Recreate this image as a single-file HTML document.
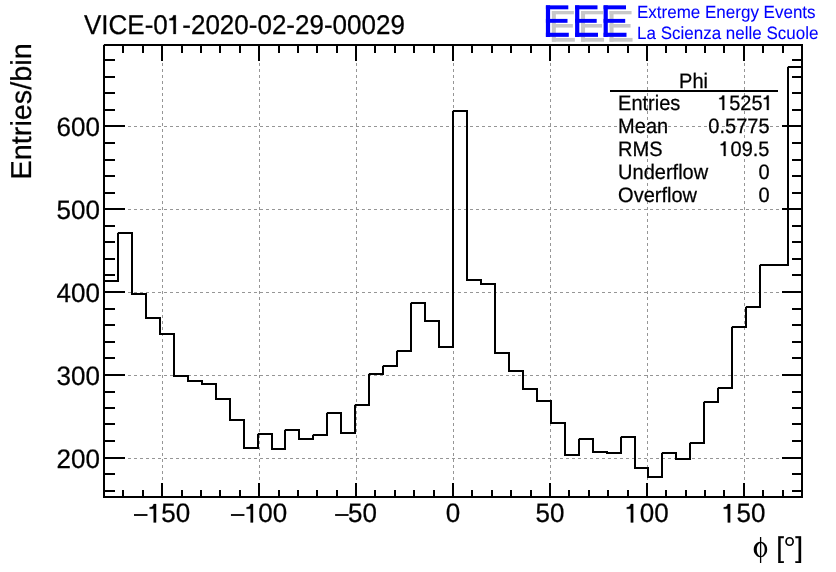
<!DOCTYPE html>
<html><head><meta charset="utf-8"><style>
html,body{margin:0;padding:0;background:#fff;width:836px;height:572px;overflow:hidden}
svg{display:block;will-change:transform}
text{font-family:"Liberation Sans",sans-serif;fill:#000;stroke:#000;stroke-width:0.25px;text-rendering:geometricPrecision}
</style></head><body>
<svg width="836" height="572" viewBox="0 0 836 572">
<rect width="836" height="572" fill="#fff"/>

<g stroke="#969696" stroke-width="1" stroke-dasharray="3 3"><line x1="162.5" y1="45" x2="162.5" y2="496"/><line x1="259.5" y1="45" x2="259.5" y2="496"/><line x1="356.5" y1="45" x2="356.5" y2="496"/><line x1="453.5" y1="45" x2="453.5" y2="496"/><line x1="550.5" y1="45" x2="550.5" y2="496"/><line x1="647.5" y1="45" x2="647.5" y2="496"/><line x1="744.5" y1="45" x2="744.5" y2="496"/><line x1="104" y1="458.5" x2="801" y2="458.5"/><line x1="104" y1="375.5" x2="801" y2="375.5"/><line x1="104" y1="292.5" x2="801" y2="292.5"/><line x1="104" y1="209.5" x2="801" y2="209.5"/><line x1="104" y1="126.5" x2="801" y2="126.5"/></g>
<path d="M104 491H115 M802 491H792 M104 474H115 M802 474H792 M104 458H125 M802 458H782 M104 441H115 M802 441H792 M104 424H115 M802 424H792 M104 408H115 M802 408H792 M104 392H115 M802 392H792 M104 375H125 M802 375H782 M104 358H115 M802 358H792 M104 342H115 M802 342H792 M104 325H115 M802 325H792 M104 309H115 M802 309H792 M104 292H125 M802 292H782 M104 275H115 M802 275H792 M104 259H115 M802 259H792 M104 242H115 M802 242H792 M104 226H115 M802 226H792 M104 209H125 M802 209H782 M104 193H115 M802 193H792 M104 176H115 M802 176H792 M104 160H115 M802 160H792 M104 143H115 M802 143H792 M104 126H125 M802 126H782 M104 110H115 M802 110H792 M104 93H115 M802 93H792 M104 77H115 M802 77H792 M104 60H115 M802 60H792 M123 497V490 M123 45V53 M143 497V490 M143 45V53 M162 497V483 M162 45V61 M182 497V490 M182 45V53 M201 497V490 M201 45V53 M220 497V490 M220 45V53 M240 497V490 M240 45V53 M259 497V483 M259 45V61 M279 497V490 M279 45V53 M298 497V490 M298 45V53 M317 497V490 M317 45V53 M337 497V490 M337 45V53 M356 497V483 M356 45V61 M375 497V490 M375 45V53 M395 497V490 M395 45V53 M414 497V490 M414 45V53 M434 497V490 M434 45V53 M453 497V483 M453 45V61 M472 497V490 M472 45V53 M492 497V490 M492 45V53 M511 497V490 M511 45V53 M531 497V490 M531 45V53 M550 497V483 M550 45V61 M569 497V490 M569 45V53 M589 497V490 M589 45V53 M608 497V490 M608 45V53 M628 497V490 M628 45V53 M647 497V483 M647 45V61 M666 497V490 M666 45V53 M686 497V490 M686 45V53 M705 497V490 M705 45V53 M724 497V490 M724 45V53 M744 497V483 M744 45V61 M763 497V490 M763 45V53 M783 497V490 M783 45V53" fill="none" stroke="#000" stroke-width="2"/>
<path d="M104.00 497.00 L104 281 L118 281 L118 233 L132 233 L132 294 L146 294 L146 318 L160 318 L160 334 L174 334 L174 376 L188 376 L188 381 L202 381 L202 384 L216 384 L216 399 L230 399 L230 420 L244 420 L244 448 L258 448 L258 434 L272 434 L272 449 L285 449 L285 430 L299 430 L299 439 L313 439 L313 435 L327 435 L327 413 L341 413 L341 433 L355 433 L355 405 L369 405 L369 374 L383 374 L383 366 L397 366 L397 351 L411 351 L411 303 L425 303 L425 321 L439 321 L439 347 L453 347 L453 111 L467 111 L467 280 L481 280 L481 284 L495 284 L495 353 L509 353 L509 371 L523 371 L523 389 L537 389 L537 401 L551 401 L551 423 L565 423 L565 455 L579 455 L579 439 L593 439 L593 452 L607 452 L607 453 L621 453 L621 437 L635 437 L635 468 L648 468 L648 477 L662 477 L662 453 L676 453 L676 459 L690 459 L690 443 L704 443 L704 402 L718 402 L718 388 L732 388 L732 327 L746 327 L746 307 L760 307 L760 265 L774 265 L774 265 L788 265 L788 67 L802 67 L802.00 497.00" fill="none" stroke="#000" stroke-width="2" stroke-linejoin="miter"/>
<rect x="104" y="45" width="698" height="452" fill="none" stroke="#000" stroke-width="2"/>
<g fill="#fff" fill-opacity="0.85"><rect x="103" y="44" width="1" height="1"/><rect x="117" y="232" width="1" height="1"/><rect x="257" y="433" width="1" height="1"/><rect x="284" y="429" width="1" height="1"/><rect x="312" y="434" width="1" height="1"/><rect x="326" y="412" width="1" height="1"/><rect x="354" y="404" width="1" height="1"/><rect x="368" y="373" width="1" height="1"/><rect x="382" y="365" width="1" height="1"/><rect x="396" y="350" width="1" height="1"/><rect x="410" y="302" width="1" height="1"/><rect x="452" y="110" width="1" height="1"/><rect x="578" y="438" width="1" height="1"/><rect x="620" y="436" width="1" height="1"/><rect x="661" y="452" width="1" height="1"/><rect x="689" y="442" width="1" height="1"/><rect x="703" y="401" width="1" height="1"/><rect x="717" y="387" width="1" height="1"/><rect x="731" y="326" width="1" height="1"/><rect x="745" y="306" width="1" height="1"/><rect x="759" y="264" width="1" height="1"/><rect x="787" y="66" width="1" height="1"/></g>
<text transform="translate(100.00 467.50) scale(1 1.025)" font-size="26" text-anchor="end">200</text>
<text transform="translate(100.00 384.50) scale(1 1.025)" font-size="26" text-anchor="end">300</text>
<text transform="translate(100.00 301.50) scale(1 1.025)" font-size="26" text-anchor="end">400</text>
<text transform="translate(100.00 218.50) scale(1 1.025)" font-size="26" text-anchor="end">500</text>
<text transform="translate(100.00 135.50) scale(1 1.025)" font-size="26" text-anchor="end">600</text>
<text transform="translate(161.57 522.40) scale(1 1.025)" font-size="26" text-anchor="middle"><tspan fill="transparent" stroke="none">−</tspan><tspan dx="-1.2"><tspan fill="transparent" stroke="none">1</tspan>50</tspan></text>
<rect x="133.99" y="514.1" width="13.5" height="1.8" fill="#000"/>
<text transform="translate(258.51 522.40) scale(1 1.025)" font-size="26" text-anchor="middle"><tspan fill="transparent" stroke="none">−</tspan><tspan dx="-1.2"><tspan fill="transparent" stroke="none">1</tspan>00</tspan></text>
<rect x="230.94" y="514.1" width="13.5" height="1.8" fill="#000"/>
<text transform="translate(355.46 522.40) scale(1 1.025)" font-size="26" text-anchor="middle"><tspan fill="transparent" stroke="none">−</tspan><tspan dx="-1.2">50</tspan></text>
<rect x="335.11" y="514.1" width="13.5" height="1.8" fill="#000"/>
<text transform="translate(453.00 522.40) scale(1 1.025)" font-size="26" text-anchor="middle">0</text>
<text transform="translate(549.94 522.40) scale(1 1.025)" font-size="26" text-anchor="middle">50</text>
<text transform="translate(646.89 522.40) scale(1 1.025)" font-size="26" text-anchor="middle"><tspan fill="transparent" stroke="none">1</tspan>00</text>
<text transform="translate(743.83 522.40) scale(1 1.025)" font-size="26" text-anchor="middle"><tspan fill="transparent" stroke="none">1</tspan>50</text>
<text transform="translate(84.00 34.00) scale(1 1.045)" font-size="26">VICE-0<tspan fill="transparent" stroke="none">1</tspan>-2020-02-29-00029</text>
<text transform="translate(31.2 179.4) rotate(-90)" font-size="28.8">Entries/bin</text>
<path d="M760.45 541.7 A6.75 7.75 0 1 0 760.46 541.7 Z M760.75 543 A3.95 6.6 0 1 1 760.74 543 Z" fill="#000" fill-rule="evenodd"/>
<rect x="759.95" y="537" width="1.3" height="26" fill="#000"/>
<text transform="translate(803.00 557.00) scale(1 1.020)" font-size="28" text-anchor="end">[<tspan fill="transparent" stroke="none">°</tspan>]</text>
<ellipse cx="789.6" cy="541.5" rx="3.55" ry="3.75" fill="none" stroke="#000" stroke-width="1.7"/>
<text transform="translate(693.50 87.50) scale(1 1.045)" font-size="20" text-anchor="middle">Phi</text>
<line x1="610" y1="91" x2="778" y2="91" stroke="#000" stroke-width="2"/>
<text transform="translate(618.10 109.90) scale(1 1.045)" font-size="20">Entries</text>
<text transform="translate(773.70 109.90) scale(1 1.045)" font-size="20" text-anchor="end"><tspan fill="transparent" stroke="none">1</tspan>525<tspan fill="transparent" stroke="none">1</tspan></text>
<text transform="translate(618.10 132.90) scale(1 1.045)" font-size="20">Mean</text>
<text transform="translate(769.50 132.90) scale(1 1.045)" font-size="20" text-anchor="end">0.5775</text>
<text transform="translate(618.10 155.90) scale(1 1.045)" font-size="20">RMS</text>
<text transform="translate(769.50 155.90) scale(1 1.045)" font-size="20" text-anchor="end"><tspan fill="transparent" stroke="none">1</tspan>09.5</text>
<text transform="translate(618.10 178.90) scale(1 1.045)" font-size="20">Underflow</text>
<text transform="translate(769.50 178.90) scale(1 1.045)" font-size="20" text-anchor="end">0</text>
<text transform="translate(618.10 201.90) scale(1 1.045)" font-size="20">Overflow</text>
<text transform="translate(769.50 201.90) scale(1 1.045)" font-size="20" text-anchor="end">0</text>
<path transform="translate(148.053 522.40) scale(0.012695 -0.013013)" d="M440 0L440 1040L125 1040L125 1165Q300 1175 375 1265Q425 1330 440 1409L635 1409L635 0Z" fill="#000" stroke="#000" stroke-width="19.7"/>
<path transform="translate(244.993 522.40) scale(0.012695 -0.013013)" d="M440 0L440 1040L125 1040L125 1165Q300 1175 375 1265Q425 1330 440 1409L635 1409L635 0Z" fill="#000" stroke="#000" stroke-width="19.7"/>
<path transform="translate(625.195 522.40) scale(0.012695 -0.013013)" d="M440 0L440 1040L125 1040L125 1165Q300 1175 375 1265Q425 1330 440 1409L635 1409L635 0Z" fill="#000" stroke="#000" stroke-width="19.7"/>
<path transform="translate(722.135 522.40) scale(0.012695 -0.013013)" d="M440 0L440 1040L125 1040L125 1165Q300 1175 375 1265Q425 1330 440 1409L635 1409L635 0Z" fill="#000" stroke="#000" stroke-width="19.7"/>
<path transform="translate(167.797 34.00) scale(0.012695 -0.013267)" d="M440 0L440 1040L125 1040L125 1165Q300 1175 375 1265Q425 1330 440 1409L635 1409L635 0Z" fill="#000" stroke="#000" stroke-width="19.7"/>
<path transform="translate(718.075 109.90) scale(0.009766 -0.010205)" d="M440 0L440 1040L125 1040L125 1165Q300 1175 375 1265Q425 1330 440 1409L635 1409L635 0Z" fill="#000" stroke="#000" stroke-width="25.6"/>
<path transform="translate(762.559 109.90) scale(0.009766 -0.010205)" d="M440 0L440 1040L125 1040L125 1165Q300 1175 375 1265Q425 1330 440 1409L635 1409L635 0Z" fill="#000" stroke="#000" stroke-width="25.6"/>
<path transform="translate(719.438 155.90) scale(0.009766 -0.010205)" d="M440 0L440 1040L125 1040L125 1165Q300 1175 375 1265Q425 1330 440 1409L635 1409L635 0Z" fill="#000" stroke="#000" stroke-width="25.6"/>
<g fill="#c8c8c8"><rect x="551.85" y="11.00" width="4.00" height="30.70"/><rect x="551.85" y="11.00" width="22.00" height="3.30"/><rect x="551.85" y="24.00" width="21.00" height="3.60"/><rect x="551.85" y="37.90" width="23.00" height="3.80"/></g>
<g fill="#c8c8c8"><rect x="581.05" y="11.00" width="4.00" height="30.70"/><rect x="581.05" y="11.00" width="22.00" height="3.30"/><rect x="581.05" y="24.00" width="21.00" height="3.60"/><rect x="581.05" y="37.90" width="23.00" height="3.80"/></g>
<g fill="#c8c8c8"><rect x="609.55" y="11.00" width="4.00" height="30.70"/><rect x="609.55" y="11.00" width="22.00" height="3.30"/><rect x="609.55" y="24.00" width="21.00" height="3.60"/><rect x="609.55" y="37.90" width="23.00" height="3.80"/></g>
<g fill="#0000ff"><rect x="545.90" y="5.35" width="4.20" height="31.55"/><rect x="545.90" y="5.35" width="22.40" height="3.95"/><rect x="545.90" y="18.90" width="21.60" height="3.90"/><rect x="545.90" y="32.75" width="22.90" height="4.10"/></g>
<g fill="#0000ff"><rect x="575.10" y="5.35" width="4.20" height="31.55"/><rect x="575.10" y="5.35" width="22.40" height="3.95"/><rect x="575.10" y="18.90" width="21.60" height="3.90"/><rect x="575.10" y="32.75" width="22.90" height="4.10"/></g>
<g fill="#0000ff"><rect x="603.60" y="5.35" width="4.20" height="31.55"/><rect x="603.60" y="5.35" width="22.40" height="3.95"/><rect x="603.60" y="18.90" width="21.60" height="3.90"/><rect x="603.60" y="32.75" width="22.90" height="4.10"/></g>
<text transform="translate(637.00 18.00) scale(1 1.045)" font-size="17" style="fill:#0000ff;stroke:#0000ff;stroke-width:0.08px">Extreme Energy Events</text>
<text transform="translate(637.00 38.80) scale(1 1.045)" font-size="17" style="fill:#0000ff;stroke:#0000ff;stroke-width:0.08px">La Scienza nelle Scuole</text>
</svg></body></html>
